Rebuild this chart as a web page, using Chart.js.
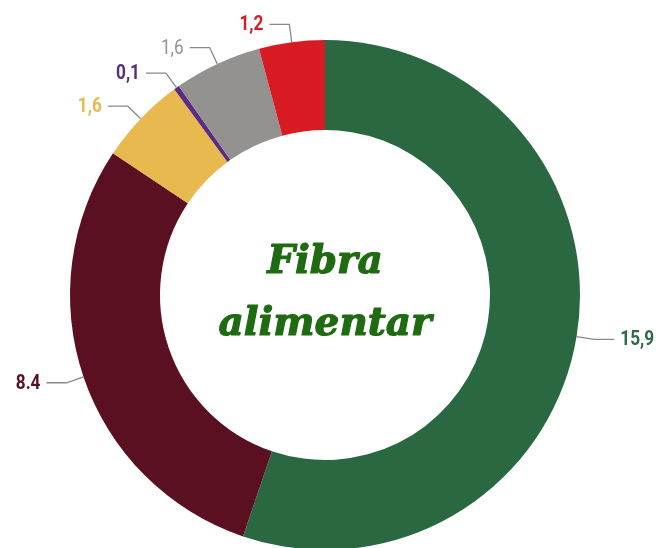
<!DOCTYPE html>
<html>
<head>
  <meta charset="utf-8">
  <title>Fibra alimentar</title>
  <script src="https://cdn.jsdelivr.net/npm/chart.js@4.4.0/dist/chart.umd.min.js"></script>
  <style>
    html, body { margin: 0; padding: 0; background: #fff; overflow: hidden; }
    #ctn { width: 658px; height: 548px; overflow: hidden; }
  </style>
</head>
<body>
  <div id="ctn"><canvas id="chartEl" width="658" height="560"></canvas></div>

  <script>
    // data, clockwise from 12 o'clock
    let values = [15.9, 8.4, 1.6, 0.1, 1.6, 1.2];
    let valueLabels = ["15,9", "8.4", "1,6", "0,1", "1,6", "1,2"];
    let colors = ["#2a6842", "#5b1022", "#e8b94f", "#5b2d82", "#939291", "#d81b22"];
    let labelColors = ["#2e6a45", "#5b1022", "#e8b94f", "#5b2d82", "#939291", "#d81b22"];
    let labelWeights = ["bold", "bold", "bold", "bold", "normal", "bold"];
    let centerLines = ["Fibra", "alimentar"];

    let leaderPlugin = {
      id: "leaders",
      afterDatasetsDraw(chart) {
        let ctx = chart.ctx;
        let arcs = chart.getDatasetMeta(0).data;
        ctx.save();
        arcs.forEach((arc, i) => {
          let mid = (arc.startAngle + arc.endAngle) / 2;
          let r = arc.outerRadius;
          let cos = Math.cos(mid), sin = Math.sin(mid);
          let x0 = arc.x + cos * r, y0 = arc.y + sin * r;
          let x1 = arc.x + cos * (r + 18), y1 = arc.y + sin * (r + 18);
          let dir = cos >= 0 ? 1 : -1;
          let x2 = x1 + dir * 20;
          ctx.strokeStyle = "#8a8a8a";
          ctx.lineWidth = 1.3;
          ctx.beginPath();
          ctx.moveTo(x0, y0);
          ctx.lineTo(x1, y1);
          ctx.lineTo(x2, y1);
          ctx.stroke();

          // condensed-looking label: squeeze Roboto horizontally
          ctx.save();
          ctx.translate(x2 + dir * 6, y1 + 1);
          ctx.scale(0.86, 1);
          ctx.fillStyle = labelColors[i];
          ctx.font = labelWeights[i] + " 20px Roboto, 'Liberation Sans', sans-serif";
          ctx.textBaseline = "middle";
          ctx.textAlign = dir > 0 ? "left" : "right";
          ctx.fillText(valueLabels[i], 0, 0);
          ctx.restore();
        });

        // center title (a bit heavier to resemble the script face)
        let cx = arcs[0].x, cy = arcs[0].y;
        ctx.fillStyle = "#1f6b12";
        ctx.strokeStyle = "#1f6b12";
        ctx.lineWidth = 1.2;
        ctx.lineJoin = "round";
        ctx.textAlign = "center";
        ctx.textBaseline = "alphabetic";
        ctx.font = "italic bold 39px 'DejaVu Serif', serif";
        centerLines.forEach((line, k) => {
          let y = k === 0 ? cy - 22 : cy + 40;
          ctx.fillText(line, cx, y);
          ctx.strokeText(line, cx, y);
        });
        ctx.restore();
      }
    };

    new Chart(document.getElementById("chartEl"), {
      type: "doughnut",
      plugins: [leaderPlugin],
      data: {
        labels: valueLabels,
        datasets: [{
          data: values,
          backgroundColor: colors,
          borderWidth: 0
        }]
      },
      options: {
        responsive: false,
        animation: false,
        cutout: "64.7%",
        layout: { padding: { left: 70, right: 78, top: 40, bottom: 10 } },
        plugins: {
          legend: { display: false },
          tooltip: { enabled: false }
        }
      }
    });
  </script>
</body>
</html>
